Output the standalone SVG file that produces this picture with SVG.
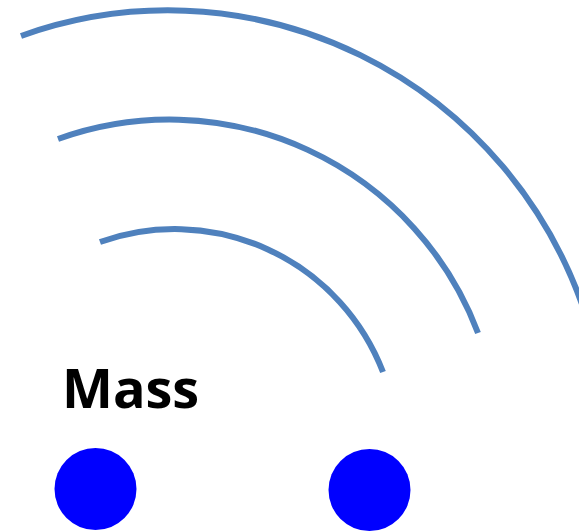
<svg xmlns="http://www.w3.org/2000/svg" width="579" height="531" viewBox="0 0 579 531">
<style>
.wave{fill:none;stroke:#4F81BD;stroke-width:6;stroke-linecap:butt}
.mass{fill:#0000FF}
.label{font-family:"Open Sans","Liberation Sans",sans-serif;font-weight:bold;font-size:54px;fill:#000}
</style>
<rect width="579" height="531" fill="#fff"/>
<g id="waves">
<path class="wave" d="M100,242 A223,223 0 0 1 383,372"/>
<path class="wave" d="M58,139 A329.5,329.5 0 0 1 478,333"/>
<path class="wave" d="M21,36 A440,445 0 0 1 585,313"/>
</g>
<g id="label"><text class="label" x="62" y="408">Mass</text></g>
<g id="mass-left"><circle class="mass" cx="95.5" cy="489" r="41"/></g>
<g id="mass-right"><circle class="mass" cx="369.5" cy="490" r="41"/></g>
</svg>
